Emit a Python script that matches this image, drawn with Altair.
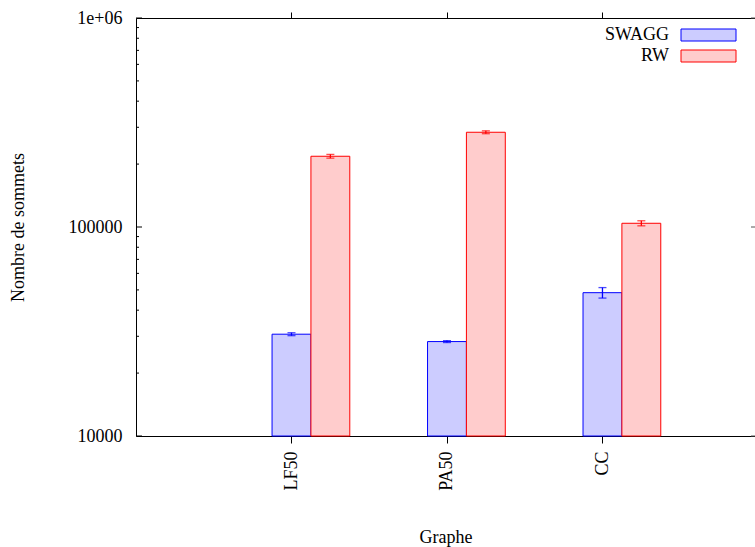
import altair as alt
import pandas as pd

# Graph datasets and the two exploration methods compared
categories = ["LF50", "PA50", "CC"]
series = ["SWAGG", "RW"]

# Mean number of vertices reached, with error half-widths
swagg_values = [30700, 28300, 48500]
swagg_errors = [500, 300, 2800]
rw_values = [218000, 284000, 104200]
rw_errors = [4500, 4500, 2900]

fill_colors = ["#ccccff", "#ffcccc"]
line_colors = ["#0000ff", "#ff0000"]

major_ticks = [10000, 100000, 1000000]
minor_ticks = [20000, 30000, 40000, 50000, 60000, 70000, 80000, 90000,
               200000, 300000, 400000, 500000, 600000, 700000, 800000, 900000]

FONT = "Liberation Serif"
W, H = 619, 418
BAR_W = 0.25

rows = []
for s_idx, (name, vals, errs) in enumerate(
        [("SWAGG", swagg_values, swagg_errors), ("RW", rw_values, rw_errors)]):
    for c_idx, cat in enumerate(categories):
        center = (c_idx + 1) + s_idx * BAR_W
        rows.append({
            "graphe": cat,
            "series": name,
            "x0": center - BAR_W / 2,
            "x1": center + BAR_W / 2,
            "xc": center,
            "value": vals[c_idx],
            "lo": vals[c_idx] - errs[c_idx],
            "hi": vals[c_idx] + errs[c_idx],
        })
df = pd.DataFrame(rows)

x_scale = alt.Scale(domain=[0, 3.981], nice=False, zero=False)
y_scale = alt.Scale(type="log", domain=[10000, 1000000], nice=False)
fill_scale = alt.Scale(domain=series, range=fill_colors)
stroke_scale = alt.Scale(domain=series, range=line_colors)

label_expr = "[" + ",".join("'%s'" % c for c in categories) + "][datum.value - 1]"

x_bottom = alt.Axis(
    values=[1, 2, 3], labelExpr=label_expr, labelAngle=-90, labelPadding=8,
    tickSize=7, tickColor="black", domainColor="black", grid=False,
    labelFont=FONT, labelFontSize=18, labelColor="black",
    title="Graphe", titleFont=FONT, titleFontSize=18, titleFontWeight="normal",
    titleColor="black", titleX=W / 2, titleY=101, titleAlign="center",
    titleBaseline="middle",
)
x_top = alt.Axis(
    orient="top", values=[1, 2, 3], labels=False, tickSize=6,
    tickColor="black", domainColor="black", grid=False, title=None,
)
y_axis = alt.Axis(
    values=major_ticks,
    labelExpr="datum.value >= 1000000 ? '1e+06' : format(datum.value, 'd')",
    ticks=False, tickSize=0, labelPadding=14, domainColor="black", grid=False,
    labelFont=FONT, labelFontSize=18, labelColor="black",
    title="Nombre de sommets", titleFont=FONT, titleFontSize=18,
    titleFontWeight="normal", titleColor="black", titleAngle=-90,
    titleX=-118, titleY=H / 2, titleAlign="center", titleBaseline="middle",
)

bars = alt.Chart(df).mark_bar(strokeWidth=1).encode(
    x=alt.X("x0:Q", scale=x_scale, axis=x_bottom),
    x2="x1:Q",
    y=alt.Y("value:Q", scale=y_scale, axis=y_axis),
    y2=alt.datum(10000),
    fill=alt.Fill("series:N", scale=fill_scale, legend=None),
    stroke=alt.Stroke("series:N", scale=stroke_scale, legend=None),
)

err_line = alt.Chart(df).mark_rule(strokeWidth=1.3).encode(
    x=alt.X("xc:Q", scale=x_scale, axis=x_top),
    y=alt.Y("lo:Q", scale=y_scale, axis=y_axis),
    y2="hi:Q",
    color=alt.Color("series:N", scale=stroke_scale, legend=None),
)

cap_lo = alt.Chart(df).mark_tick(orient="horizontal", size=8, thickness=1.3).encode(
    x=alt.X("xc:Q", scale=x_scale, axis=None),
    y=alt.Y("lo:Q", scale=y_scale, axis=y_axis),
    color=alt.Color("series:N", scale=stroke_scale, legend=None),
)
cap_hi = alt.Chart(df).mark_tick(orient="horizontal", size=8, thickness=1.3).encode(
    x=alt.X("xc:Q", scale=x_scale, axis=None),
    y=alt.Y("hi:Q", scale=y_scale, axis=y_axis),
    color=alt.Color("series:N", scale=stroke_scale, legend=None),
)

# Inward y ticks on the left border and mirrored on the right
major_df = pd.DataFrame({"v": major_ticks})
minor_df = pd.DataFrame({"v": minor_ticks})
ytick_layers = []
for tick_df, length in [(major_df, 6), (minor_df, 3)]:
    ytick_layers.append(alt.Chart(tick_df).mark_rule(color="black", strokeWidth=1).encode(
        x=alt.value(0), x2=alt.value(length),
        y=alt.Y("v:Q", scale=y_scale, axis=y_axis),
    ))
ytick_layers.append(alt.Chart(major_df).mark_rule(color="#555555", strokeWidth=1).encode(
    x=alt.value(W - 4), x2=alt.value(W),
    y=alt.Y("v:Q", scale=y_scale, axis=y_axis),
))

# Key in the upper right corner: label on the left, swatch on the right
legend_layers = []
for i, name in enumerate(series):
    key_df = pd.DataFrame({"series": [name]})
    yc = 17 + i * 21
    legend_layers.append(alt.Chart(key_df).mark_text(
        align="right", baseline="middle", font=FONT, fontSize=18, color="black",
    ).encode(x=alt.value(533), y=alt.value(yc), text="series:N"))
    legend_layers.append(alt.Chart(key_df).mark_rect(
        fill=fill_colors[i], stroke=line_colors[i], strokeWidth=1,
    ).encode(x=alt.value(545), x2=alt.value(600),
             y=alt.value(yc - 6), y2=alt.value(yc + 6)))

chart = alt.layer(
    bars, err_line, cap_lo, cap_hi, *ytick_layers, *legend_layers,
).resolve_axis(x="independent").properties(
    width=W, height=H,
    autosize=alt.AutoSizeParams(type="none"),
    padding={"left": 136, "top": 18, "right": 0, "bottom": 111},
).configure_view(stroke=None).configure(background="white")

chart.save("out.html", embed_options={"renderer": "svg", "actions": False})
